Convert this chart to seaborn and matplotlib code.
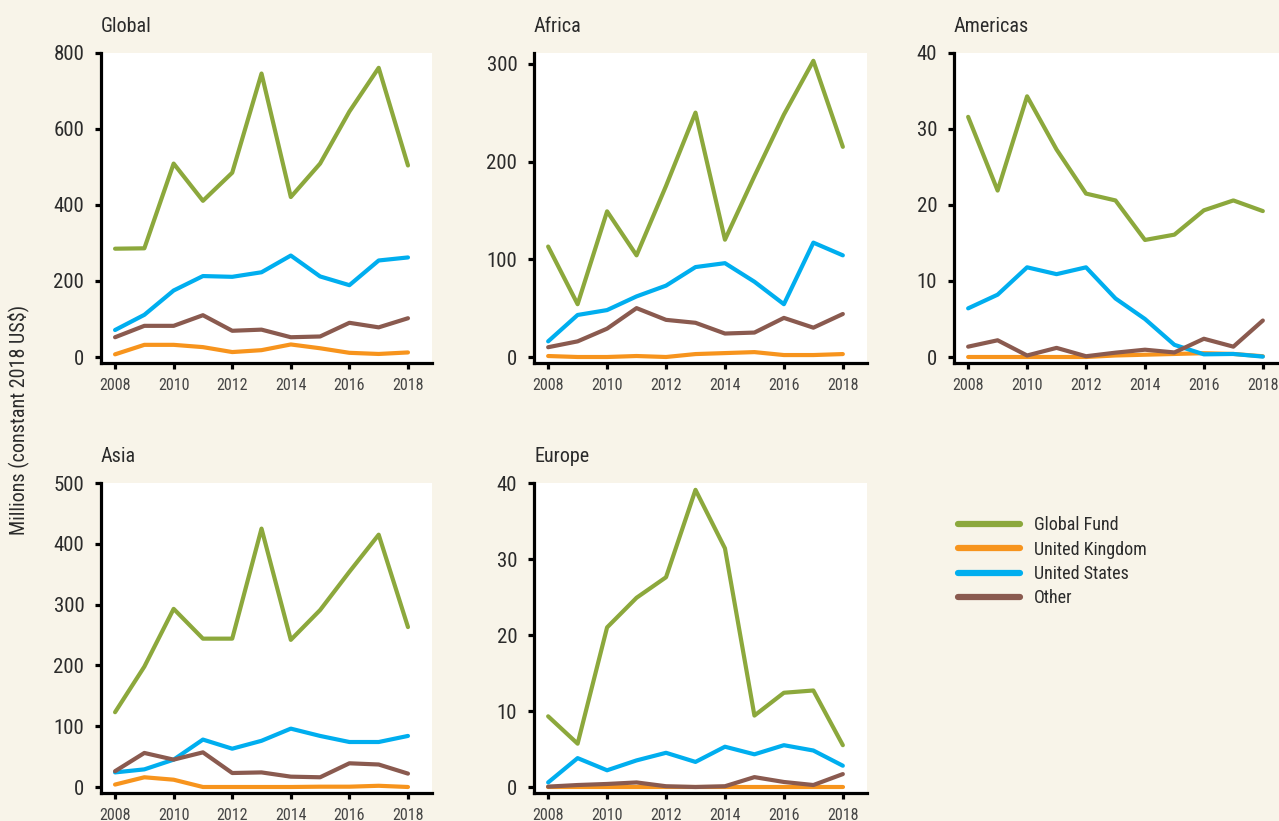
import numpy as np
import pandas as pd
import matplotlib
matplotlib.use("Agg")
import matplotlib.pyplot as plt
from matplotlib import font_manager
import seaborn as sns

years = list(range(2008, 2019))
donors = ["Global Fund", "United Kingdom", "United States", "Other"]
colors = ["#8CA83C", "#F7941D", "#00AEEF", "#8A5A4F"]

# Millions of constant 2018 US$ by region and donor
global_gf = [285, 286, 509, 411, 485, 746, 421, 509, 646, 761, 504]
global_uk = [7, 32, 32, 26, 13, 18, 33, 23, 11, 8, 12]
global_us = [71, 111, 175, 213, 211, 223, 267, 212, 189, 254, 262]
global_other = [52, 82, 82, 110, 69, 72, 52, 54, 90, 78, 102]

africa_gf = [113, 54, 149, 104, 175, 250, 120, 185, 248, 303, 215]
africa_uk = [1, 0, 0, 1, 0, 3, 4, 5, 2, 2, 3]
africa_us = [16, 43, 48, 62, 73, 92, 96, 77, 54, 117, 104]
africa_other = [10, 16, 29, 50, 38, 35, 24, 25, 40, 30, 44]

americas_gf = [31.6, 21.9, 34.3, 27.3, 21.5, 20.6, 15.4, 16.1, 19.3, 20.6, 19.2]
americas_uk = [0, 0, 0, 0, 0, 0.2, 0.3, 0.4, 0.5, 0.4, 0.1]
americas_us = [6.4, 8.2, 11.8, 10.9, 11.8, 7.7, 5.0, 1.6, 0.35, 0.4, 0.05]
americas_other = [1.36, 2.2, 0.2, 1.2, 0.1, 0.57, 0.96, 0.6, 2.4, 1.36, 4.8]

asia_gf = [123, 198, 293, 244, 244, 425, 242, 291, 354, 415, 263]
asia_uk = [4, 16, 12, 0, 0, 0, 0, 0.5, 0.5, 2, 0]
asia_us = [24, 29, 45, 78, 63, 76, 96, 84, 74, 74, 84]
asia_other = [26, 56, 45, 57, 23, 24, 17, 16, 39, 37, 22]

europe_gf = [9.3, 5.7, 21.0, 24.9, 27.6, 39.1, 31.4, 9.4, 12.4, 12.7, 5.5]
europe_uk = [0, 0, 0, 0, 0, 0, 0, 0, 0, 0, 0]
europe_us = [0.6, 3.8, 2.2, 3.5, 4.5, 3.3, 5.3, 4.3, 5.5, 4.8, 2.8]
europe_other = [0.05, 0.26, 0.4, 0.6, 0.1, 0.0, 0.1, 1.3, 0.66, 0.26, 1.7]

regions = ["Global", "Africa", "Americas", "Asia", "Europe"]
region_series = {
    "Global": [global_gf, global_uk, global_us, global_other],
    "Africa": [africa_gf, africa_uk, africa_us, africa_other],
    "Americas": [americas_gf, americas_uk, americas_us, americas_other],
    "Asia": [asia_gf, asia_uk, asia_us, asia_other],
    "Europe": [europe_gf, europe_uk, europe_us, europe_other],
}
y_tops = {"Global": 800, "Africa": 311, "Americas": 40, "Asia": 500, "Europe": 40}
y_ticks = {
    "Global": [0, 200, 400, 600, 800],
    "Africa": [0, 100, 200, 300],
    "Americas": [0, 10, 20, 30, 40],
    "Asia": [0, 100, 200, 300, 400, 500],
    "Europe": [0, 10, 20, 30, 40],
}
x_ticks = [2008, 2010, 2012, 2014, 2016, 2018]

rows = []
for region in regions:
    for donor, vals in zip(donors, region_series[region]):
        for yr, v in zip(years, vals):
            rows.append({"region": region, "donor": donor, "year": yr, "value": v})
df = pd.DataFrame(rows)

sns.set_theme(style="white")
# prefer a narrow face when one is available
installed = {f.name for f in font_manager.fontManager.ttflist}
narrow = [n for n in ["Liberation Sans Narrow", "DejaVu Sans Condensed", "Roboto Condensed"]
          if n in installed]
FONT = narrow + ["DejaVu Sans"]
condensed = bool(narrow)
plt.rcParams["font.family"] = FONT
if not condensed:
    plt.rcParams["font.stretch"] = "condensed"
TEXT = "#2b2b2b"
BG = "#F8F4E9"
scale = 1.0 if condensed else 0.88

W, H = 1279, 821
fig = plt.figure(figsize=(W / 100, H / 100), dpi=100, facecolor=BG)

# panel boxes in pixels: left, top, width, height
boxes = {
    "Global": (101, 53, 331, 310),
    "Africa": (534, 53, 333, 310),
    "Americas": (954, 53, 333, 310),
    "Asia": (101, 483, 331, 310),
    "Europe": (534, 483, 333, 310),
}
palette = dict(zip(donors, colors))

for region in regions:
    l, t, w, h = boxes[region]
    ax = fig.add_axes([l / W, 1 - (t + h) / H, w / W, h / H])
    ax.set_facecolor("white")
    sub = df[df.region == region]
    sns.lineplot(data=sub, x="year", y="value", hue="donor", hue_order=donors,
                 palette=palette, linewidth=3.0, ax=ax, legend=False,
                 solid_capstyle="round")
    top = y_tops[region]
    ax.set_ylim(-top * 6 / 304, top)
    ax.set_xlim(2007.52, 2018.82)
    ax.set_yticks(y_ticks[region])
    ax.set_xticks(x_ticks)
    ax.set_xlabel("")
    ax.set_ylabel("")
    for s in ["top", "right"]:
        ax.spines[s].set_visible(False)
    for s in ["left", "bottom"]:
        ax.spines[s].set_color("black")
        ax.spines[s].set_linewidth(2.3)
    ax.tick_params(axis="y", which="major", direction="out", length=4, width=2.3,
                   color="black", pad=8, labelsize=15 * scale, labelcolor=TEXT, left=True)
    ax.tick_params(axis="x", which="major", direction="out", length=4, width=2.3,
                   color="black", pad=7, labelsize=11.5 * scale, labelcolor="#444444",
                   bottom=True)
    ax.set_title(region, loc="left", pad=15, fontsize=14.5 * scale, color=TEXT, family=FONT)

fig.text(18 / W, 1 - 420 / H, "Millions (constant 2018 US$)", rotation=90,
         ha="center", va="center", fontsize=14.5 * scale, color=TEXT, family=FONT)

handles = [plt.Line2D([], [], color=c, linewidth=4.5, solid_capstyle="round") for c in colors]
fig.legend(handles, donors, loc="upper left", bbox_to_anchor=(942 / W, 1 - 500 / H),
           frameon=False, fontsize=13 * scale, handlelength=3.4, handletextpad=0.8,
           labelspacing=0.35, labelcolor=TEXT)

fig.savefig("out.png", dpi=100, facecolor=BG)
